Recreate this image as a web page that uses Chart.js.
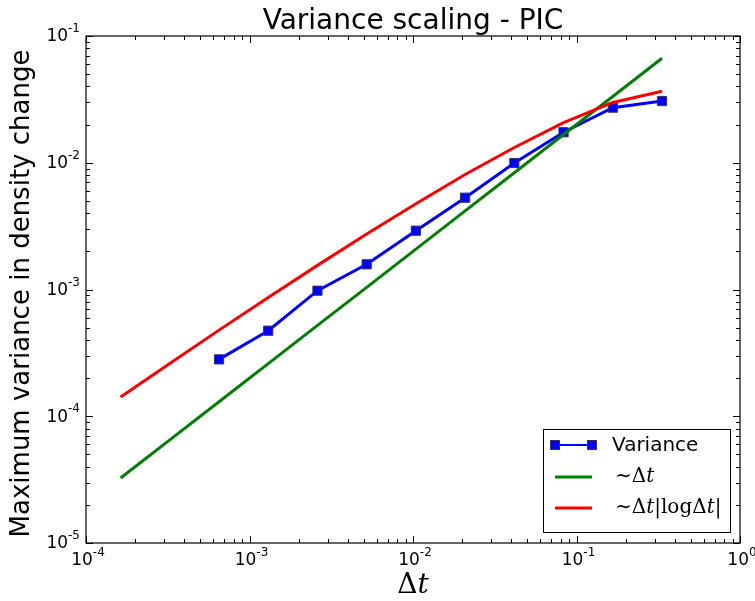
<!DOCTYPE html>
<html>
<head>
<meta charset="utf-8">
<script src="https://cdn.jsdelivr.net/npm/chart.js@4.4.1/dist/chart.umd.min.js"></script>
<style>
  body { margin: 0; background: #fff; }
  #wrap { width: 755px; height: 601px; position: relative; }
</style>
</head>
<body>
<div id="wrap"><canvas id="myChart"></canvas></div>
<script>
// time steps of the measured runs (halving each time)
const dtVariance = [0.000651, 0.001302, 0.002604, 0.005208, 0.01042, 0.02083, 0.04167, 0.08333, 0.1667, 0.3333];
const variance = [2.81e-4, 4.73e-4, 9.79e-4, 1.58e-3, 2.91e-3, 5.30e-3, 9.95e-3, 1.74e-2, 2.72e-2, 3.07e-2];

// reference curves, drawn over a wider range of time steps
const dtFit = [0.0001628, 0.0003255, 0.000651, 0.001302, 0.002604, 0.005208, 0.01042, 0.02083, 0.04167, 0.08333, 0.1667, 0.3333];
const fitLinear = [3.26e-5, 6.51e-5, 1.30e-4, 2.60e-4, 5.21e-4, 1.04e-3, 2.08e-3, 4.17e-3, 8.33e-3, 1.67e-2, 3.33e-2, 6.67e-2];
const fitLog = [1.42e-4, 2.61e-4, 4.78e-4, 8.65e-4, 1.55e-3, 2.74e-3, 4.75e-3, 8.07e-3, 1.32e-2, 2.07e-2, 2.99e-2, 3.66e-2];

const xDecades = [-4, -3, -2, -1, 0];
const yDecades = [-5, -4, -3, -2, -1];

const seriesLabels = ["Variance", "~Δt", "~Δt|logΔt|"];

function pts(xs, ys) {
  return xs.map((x, i) => ({ x: x, y: ys[i] }));
}

// draws "10" with a raised exponent, centred on x or right aligned at x
function powerLabel(ctx, exp, x, y, align) {
  const base = "10";
  const sup = exp < 0 ? "-" + Math.abs(exp) : String(exp);
  ctx.font = "17px 'DejaVu Sans'";
  const wb = ctx.measureText(base).width;
  ctx.font = "12px 'DejaVu Sans'";
  const ws = ctx.measureText(sup).width;
  let left = align === "right" ? x - wb - ws : x - (wb + ws) / 2;
  ctx.fillStyle = "#000";
  ctx.textBaseline = "middle";
  ctx.textAlign = "left";
  ctx.font = "17px 'DejaVu Sans'";
  ctx.fillText(base, left, y);
  ctx.font = "12px 'DejaVu Sans'";
  ctx.fillText(sup, left + wb, y - 8);
}

// draws runs of text with their own fonts one after another
function runs(ctx, parts, x, y) {
  ctx.textBaseline = "middle";
  ctx.textAlign = "left";
  ctx.fillStyle = "#000";
  parts.forEach(p => {
    ctx.font = p[1];
    ctx.fillText(p[0], x, y);
    x += ctx.measureText(p[0]).width;
  });
}

const frame = {
  id: "frame",
  afterDraw(chart) {
    const ctx = chart.ctx;
    const a = chart.chartArea;
    const xs = chart.scales.x;
    const ys = chart.scales.y;
    ctx.save();

    // ticks on all four sides, pointing in
    ctx.strokeStyle = "#000";
    ctx.lineWidth = 1;
    ctx.beginPath();
    xDecades.forEach(d => {
      for (let m = 1; m <= 9; m++) {
        if (d === 0 && m > 1) break;
        const px = Math.round(xs.getPixelForValue(m * Math.pow(10, d))) + 0.5;
        const len = m === 1 ? 7 : 4;
        ctx.moveTo(px, a.bottom); ctx.lineTo(px, a.bottom - len);
        ctx.moveTo(px, a.top); ctx.lineTo(px, a.top + len);
      }
    });
    yDecades.forEach(d => {
      for (let m = 1; m <= 9; m++) {
        if (d === -1 && m > 1) break;
        const py = Math.round(ys.getPixelForValue(m * Math.pow(10, d))) + 0.5;
        const len = m === 1 ? 7 : 4;
        ctx.moveTo(a.left, py); ctx.lineTo(a.left + len, py);
        ctx.moveTo(a.right, py); ctx.lineTo(a.right - len, py);
      }
    });
    ctx.stroke();

    ctx.lineWidth = 1.2;
    ctx.strokeRect(a.left, a.top, a.right - a.left, a.bottom - a.top);

    // tick labels
    xDecades.forEach(d => {
      powerLabel(ctx, d, xs.getPixelForValue(Math.pow(10, d)) + 2, a.bottom + 18, "center");
    });
    yDecades.forEach(d => {
      powerLabel(ctx, d, a.left - 6, ys.getPixelForValue(Math.pow(10, d)) + 1, "right");
    });

    // title
    ctx.font = "28px 'DejaVu Sans'";
    ctx.textAlign = "center";
    ctx.textBaseline = "alphabetic";
    ctx.fillStyle = "#000";
    ctx.fillText("Variance scaling - PIC", (a.left + a.right) / 2, 29);

    // axis titles
    const serif = "28px 'DejaVu Serif'";
    const serifI = "italic 28px 'DejaVu Serif'";
    ctx.font = serif;
    const w1 = ctx.measureText("Δ").width;
    ctx.font = serifI;
    const w2 = ctx.measureText("t").width;
    runs(ctx, [["Δ", serif], ["t", serifI]], (a.left + a.right) / 2 - (w1 + w2) / 2, 586);

    ctx.save();
    ctx.translate(22, (a.top + a.bottom) / 2 + 4);
    ctx.rotate(-Math.PI / 2);
    ctx.font = "26px 'DejaVu Sans'";
    ctx.textAlign = "center";
    ctx.textBaseline = "middle";
    ctx.fillText("Maximum variance in density change", 0, 0);
    ctx.restore();

    // legend box
    const lx = 543, ly = 429, lw = 187, lh = 103;
    ctx.fillStyle = "#fff";
    ctx.fillRect(lx, ly, lw, lh);
    ctx.strokeStyle = "#000";
    ctx.lineWidth = 1;
    ctx.strokeRect(lx + 0.5, ly + 0.5, lw, lh);

    const ds = chart.data.datasets;
    const rows = [445, 477, 508];
    rows.forEach((ry, i) => {
      ctx.strokeStyle = ds[i].borderColor;
      ctx.lineWidth = i === 0 ? 2 : 3;
      ctx.beginPath();
      ctx.moveTo(555, ry); ctx.lineTo(592, ry);
      ctx.stroke();
      if (i === 0) {
        [555, 592].forEach(px => {
          ctx.fillStyle = ds[0].pointBackgroundColor;
          ctx.fillRect(px - 4.5, ry - 4.5, 9, 9);
          ctx.strokeStyle = ds[0].pointBorderColor;
          ctx.lineWidth = 1;
          ctx.strokeRect(px - 4.5, ry - 4.5, 9, 9);
        });
      }
    });
    const m = "20px 'DejaVu Serif'";
    const mi = "italic 20px 'DejaVu Serif'";
    runs(ctx, [[seriesLabels[0], "20px 'DejaVu Sans'"]], 612, rows[0] + 1);
    runs(ctx, [["∼", m], ["Δ", m], ["t", mi]], 615, rows[1]);
    runs(ctx, [["∼", m], ["Δ", m], ["t", mi], ["|log", m], ["Δ", m], ["t", mi], ["|", m]], 615, rows[2]);

    ctx.restore();
  }
};

const ctx1 = document.getElementById("myChart");

const chart1 = new Chart(ctx1, {
  type: "line",
  data: {
    datasets: [
      {
        label: seriesLabels[0],
        data: pts(dtVariance, variance),
        borderColor: "#0000ff",
        borderWidth: 3,
        pointStyle: "rect",
        pointRadius: 6.5,
        pointBackgroundColor: "#0000ff",
        pointBorderColor: "#333366",
        pointBorderWidth: 1,
        order: 3,
      },
      {
        label: seriesLabels[1],
        data: pts(dtFit, fitLinear),
        borderColor: "#008000",
        borderWidth: 3,
        pointRadius: 0,
        order: 2,
      },
      {
        label: seriesLabels[2],
        data: pts(dtFit, fitLog),
        borderColor: "#ff0000",
        borderWidth: 3,
        pointRadius: 0,
        order: 1,
      },
    ],
  },
  options: {
    responsive: true,
    maintainAspectRatio: false,
    animation: false,
    layout: { padding: { top: 36, right: 15, left: 0, bottom: 0 } },
    plugins: {
      legend: { display: false },
      tooltip: { enabled: false },
      title: { display: false },
    },
    scales: {
      x: {
        type: "logarithmic",
        min: 1e-4,
        max: 1,
        ticks: { display: false },
        grid: { display: false },
        border: { display: false },
        afterFit: s => { s.height = 58; },
      },
      y: {
        type: "logarithmic",
        min: 1e-5,
        max: 1e-1,
        ticks: { display: false },
        grid: { display: false },
        border: { display: false },
        afterFit: s => { s.width = 86; },
      },
    },
  },
  plugins: [frame],
});
</script>
</body>
</html>
